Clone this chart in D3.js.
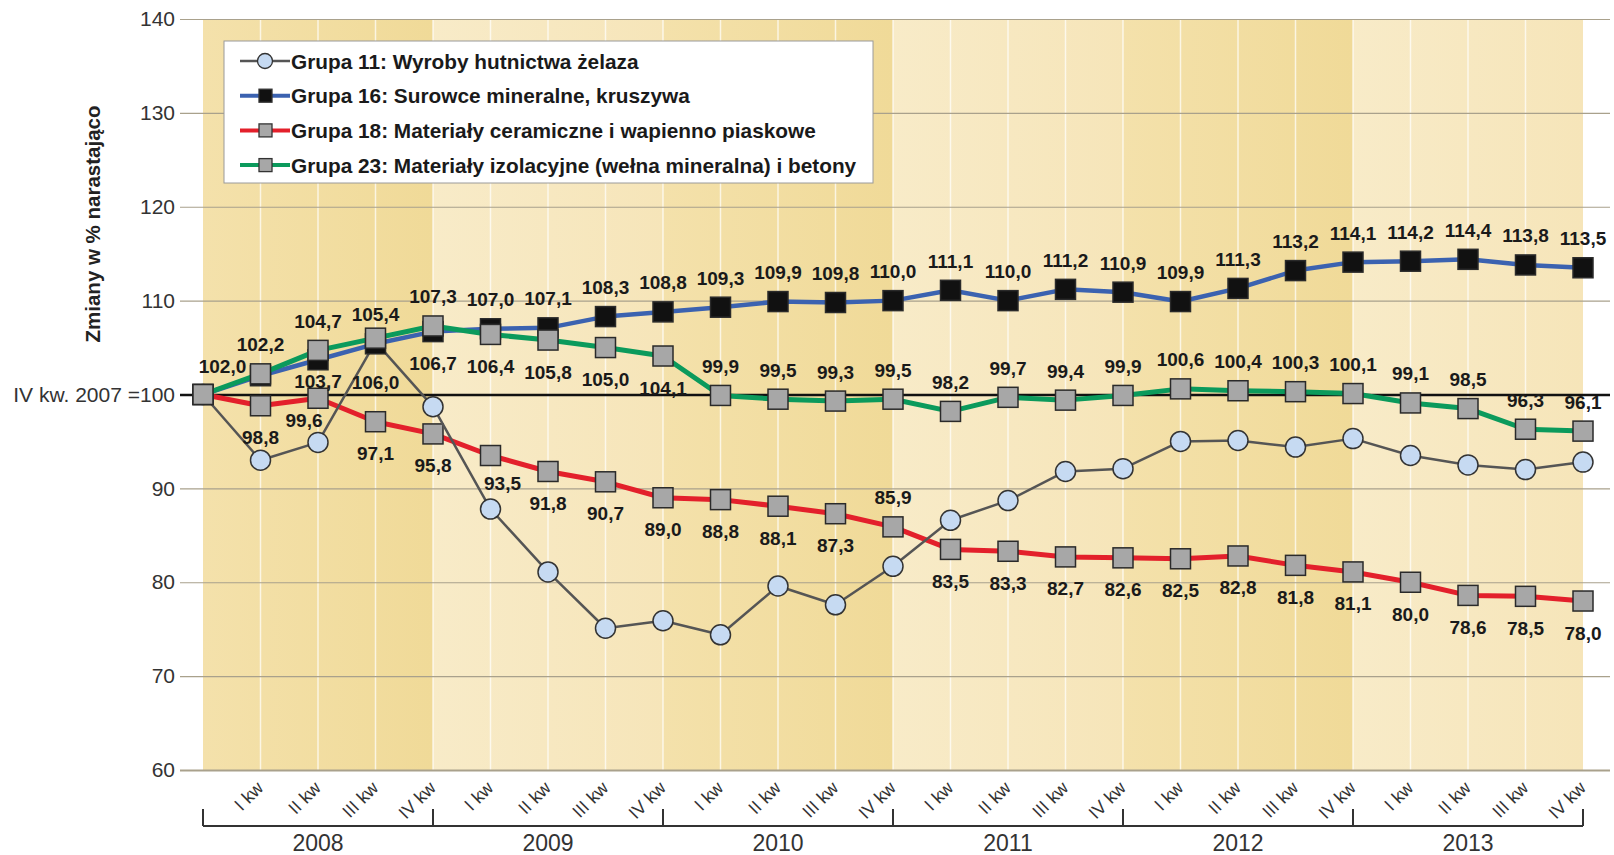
<!DOCTYPE html>
<html>
<head>
<meta charset="utf-8">
<script src="https://cdnjs.cloudflare.com/ajax/libs/d3/7.8.5/d3.min.js"></script>
<style>
  body { margin: 0; background: #fff; }
  svg { display: block; font-family: "Liberation Sans", Arial, sans-serif; }
</style>
</head>
<body>
<svg id="chart" width="1614" height="855"></svg>
<script type="text/javascript">

// chart data
var years = ['2008', '2009', '2010', '2011', '2012', '2013'];
var quarters = ['I kw', 'II kw', 'III kw', 'IV kw'];
var yTicks = [60, 70, 80, 90, 100, 110, 120, 130, 140];

var grupa11 = [100, 93.0, 94.9, 105.6, 98.7, 87.8, 81.1, 75.1, 75.9, 74.4, 79.6, 77.6, 81.7,
               86.6, 88.7, 91.8, 92.1, 95.0, 95.1, 94.4, 95.3, 93.5, 92.5, 92.0, 92.8];
var grupa16 = [100, 102.0, 103.7, 105.4, 106.7, 107.0, 107.1, 108.3, 108.8, 109.3, 109.9, 109.8, 110.0,
               111.1, 110.0, 111.2, 110.9, 109.9, 111.3, 113.2, 114.1, 114.2, 114.4, 113.8, 113.5];
var grupa18 = [100, 98.8, 99.6, 97.1, 95.8, 93.5, 91.8, 90.7, 89.0, 88.8, 88.1, 87.3, 85.9,
               83.5, 83.3, 82.7, 82.6, 82.5, 82.8, 81.8, 81.1, 80.0, 78.6, 78.5, 78.0];
var grupa23 = [100, 102.2, 104.7, 106.0, 107.3, 106.4, 105.8, 105.0, 104.1, 99.9, 99.5, 99.3, 99.5,
               98.2, 99.7, 99.4, 99.9, 100.6, 100.4, 100.3, 100.1, 99.1, 98.5, 96.3, 96.1];

var legendNames = [
  'Grupa 11: Wyroby hutnictwa żelaza',
  'Grupa 16: Surowce mineralne, kruszywa',
  'Grupa 18: Materiały ceramiczne i wapienno piaskowe',
  'Grupa 23: Materiały izolacyjne (wełna mineralna) i betony'
];

// where each value label sits: a = above, b = below, B = far below, c = just below,
// l = upper left, d = just below left, r = below right
var place16 = ['', 'l', 'c', 'a', 'b', 'a', 'a', 'a', 'a', 'a', 'a', 'a', 'a',
               'a', 'a', 'a', 'a', 'a', 'a', 'a', 'a', 'a', 'a', 'a', 'a'];
var place18 = ['', 'b', 'd', 'b', 'b', 'r', 'b', 'b', 'b', 'b', 'b', 'b', 'a',
               'b', 'b', 'b', 'b', 'b', 'b', 'b', 'b', 'b', 'b', 'b', 'b'];
var place23 = ['', 'a', 'a', 'B', 'a', 'b', 'b', 'b', 'b', 'a', 'a', 'a', 'a',
               'a', 'a', 'a', 'a', 'a', 'a', 'a', 'a', 'a', 'a', 'a', 'a'];

var svg = d3.select('#chart');

var x = d3.scaleLinear().domain([0, 24]).range([203, 1583]);
var y = d3.scaleLinear().domain([60, 140]).range([770, 19]);

var fmt = function(v) { return d3.format('.1f')(v).replace('.', ','); };

// background bands, one per year
var defs = svg.append('defs');
var dark = defs.append('linearGradient').attr('id', 'bandDark');
dark.append('stop').attr('offset', '0%').attr('stop-color', '#f4e1ab');
dark.append('stop').attr('offset', '100%').attr('stop-color', '#f0da98');
var light = defs.append('linearGradient').attr('id', 'bandLight');
light.append('stop').attr('offset', '0%').attr('stop-color', '#f8ebc8');
light.append('stop').attr('offset', '100%').attr('stop-color', '#f6e5b9');

svg.append('g').selectAll('rect')
  .data(years)
  .join('rect')
    .attr('x', function(d, i) { return x(i * 4); })
    .attr('y', y(140))
    .attr('width', function(d, i) { return x(i * 4 + 4) - x(i * 4); })
    .attr('height', y(60) - y(140))
    .attr('fill', function(d, i) { return i % 2 ? 'url(#bandLight)' : 'url(#bandDark)'; });

// white quarter separators
svg.append('g').selectAll('line')
  .data(d3.range(1, 24))
  .join('line')
    .attr('x1', function(d) { return x(d); })
    .attr('x2', function(d) { return x(d); })
    .attr('y1', y(140))
    .attr('y2', y(60))
    .attr('stroke', '#fff')
    .attr('stroke-opacity', 0.7)
    .attr('stroke-width', 1.5);

// y axis with gridlines
var yAxis = svg.append('g')
  .attr('transform', 'translate(180,0)')
  .call(d3.axisLeft(y)
    .tickValues(yTicks)
    .tickSize(-1430)
    .tickPadding(5)
    .tickFormat(function(d) { return d === 100 ? 'IV kw. 2007 =100' : d; }));

yAxis.select('.domain').remove();
yAxis.selectAll('.tick line')
  .attr('stroke', function(d) { return d === 100 ? '#111' : '#a9a18c'; })
  .attr('stroke-width', function(d) { return d === 100 ? 2.5 : (d === 60 ? 2 : 1.2); });
yAxis.selectAll('.tick text')
  .attr('fill', '#333')
  .style('font-size', '21px');

svg.append('text')
  .attr('transform', 'translate(100,224) rotate(-90)')
  .attr('text-anchor', 'middle')
  .attr('fill', '#222')
  .style('font-size', '20.5px')
  .style('font-weight', 'bold')
  .text('Zmiany w % narastająco');

// x axis: quarter labels
svg.append('g').selectAll('text')
  .data(d3.range(1, 25))
  .join('text')
    .attr('transform', function(d) { return 'translate(' + (x(d) + 4) + ',789) rotate(-45)'; })
    .attr('text-anchor', 'end')
    .attr('fill', '#333')
    .style('font-size', '18px')
    .text(function(d) { return quarters[(d - 1) % 4]; });

// year brackets
var bracket = svg.append('g').attr('stroke', '#333').attr('stroke-width', 2);
bracket.append('line')
  .attr('x1', x(0)).attr('x2', x(24))
  .attr('y1', 826).attr('y2', 826);
bracket.selectAll('.yt')
  .data(d3.range(0, 25, 4))
  .join('line')
    .attr('class', 'yt')
    .attr('x1', function(d) { return x(d); })
    .attr('x2', function(d) { return x(d); })
    .attr('y1', 809).attr('y2', 826);

svg.append('g').selectAll('text')
  .data(years)
  .join('text')
    .attr('x', function(d, i) { return x(i * 4 + 2); })
    .attr('y', 851)
    .attr('text-anchor', 'middle')
    .attr('fill', '#333')
    .style('font-size', '23px')
    .text(function(d) { return d; });

// legend
var legend = svg.append('g');
legend.append('rect')
  .attr('x', 224).attr('y', 41)
  .attr('width', 649).attr('height', 142)
  .attr('fill', '#fff')
  .attr('stroke', '#9a9a9a')
  .attr('stroke-width', 1);

var series = [
  { values: grupa18, line: '#e3202b', width: 5, mark: 'square', fill: '#a7a7a7', place: place18 },
  { values: grupa11, line: '#555555', width: 2.5, mark: 'circle', fill: '#c6daf2', place: null },
  { values: grupa16, line: '#3b62b0', width: 4.5, mark: 'square', fill: '#111111', place: place16 },
  { values: grupa23, line: '#0b9a5c', width: 5, mark: 'square', fill: '#a7a7a7', place: place23 }
];
var legendOrder = [1, 2, 0, 3];

var rows = legend.selectAll('.row')
  .data(legendOrder)
  .join('g')
    .attr('class', 'row')
    .attr('transform', function(d, i) { return 'translate(0,' + (61 + i * 34.7) + ')'; });

rows.append('line')
  .attr('x1', 240).attr('x2', 290)
  .attr('stroke', function(d) { return series[d].line; })
  .attr('stroke-width', function(d) { return Math.min(series[d].width, 4); });

rows.each(function(d) {
  var s = series[d];
  var g = d3.select(this);
  if (s.mark === 'circle') {
    g.append('circle').attr('cx', 265).attr('r', 7.5)
      .attr('fill', s.fill).attr('stroke', '#333').attr('stroke-width', 1.3);
  } else {
    g.append('rect').attr('x', 259).attr('y', -6.5).attr('width', 13).attr('height', 13)
      .attr('fill', s.fill).attr('stroke', '#333').attr('stroke-width', 1.3);
  }
});

rows.append('text')
  .attr('x', 291)
  .attr('dy', '0.36em')
  .attr('fill', '#1a1a1a')
  .style('font-size', '20.8px')
  .style('font-weight', 'bold')
  .text(function(d, i) { return legendNames[i]; });

// series lines and markers
var line = d3.line()
  .x(function(d, i) { return x(i); })
  .y(function(d) { return y(d); });

series.forEach(function(s) {
  var g = svg.append('g');
  g.append('path')
    .datum(s.values)
    .attr('d', line)
    .attr('fill', 'none')
    .attr('stroke', s.line)
    .attr('stroke-width', s.width)
    .attr('stroke-linejoin', 'round');

  if (s.mark === 'circle') {
    g.selectAll('circle')
      .data(s.values)
      .join('circle')
        .attr('cx', function(d, i) { return x(i); })
        .attr('cy', function(d) { return y(d); })
        .attr('r', 10)
        .attr('fill', s.fill)
        .attr('stroke', '#333')
        .attr('stroke-width', 1.5);
  } else {
    g.selectAll('rect')
      .data(s.values)
      .join('rect')
        .attr('x', function(d, i) { return x(i) - 10; })
        .attr('y', function(d) { return y(d) - 10; })
        .attr('width', 20)
        .attr('height', 20)
        .attr('fill', s.fill)
        .attr('stroke', '#2a2a2a')
        .attr('stroke-width', 1.5);
  }
});

// value labels
var offsets = {
  a: [0, -22.5], b: [0, 38.5], B: [0, 50.5], c: [0, 28.5],
  l: [-38, -2.5], d: [-14, 28.5], r: [12, 34.5]
};
var labels = svg.append('g')
  .attr('text-anchor', 'middle')
  .attr('fill', '#1a1a1a')
  .style('font-size', '19px')
  .style('font-weight', 'bold');

series.forEach(function(s) {
  if (!s.place) return;
  labels.selectAll(null)
    .data(s.values.map(function(v, i) { return { v: v, i: i, p: s.place[i] }; }).filter(function(d) { return d.p; }))
    .join('text')
      .attr('x', function(d) { return x(d.i) + offsets[d.p][0]; })
      .attr('y', function(d) { return y(d.v) + offsets[d.p][1]; })
      .text(function(d) { return fmt(d.v); });
});

</script>
</body>
</html>
